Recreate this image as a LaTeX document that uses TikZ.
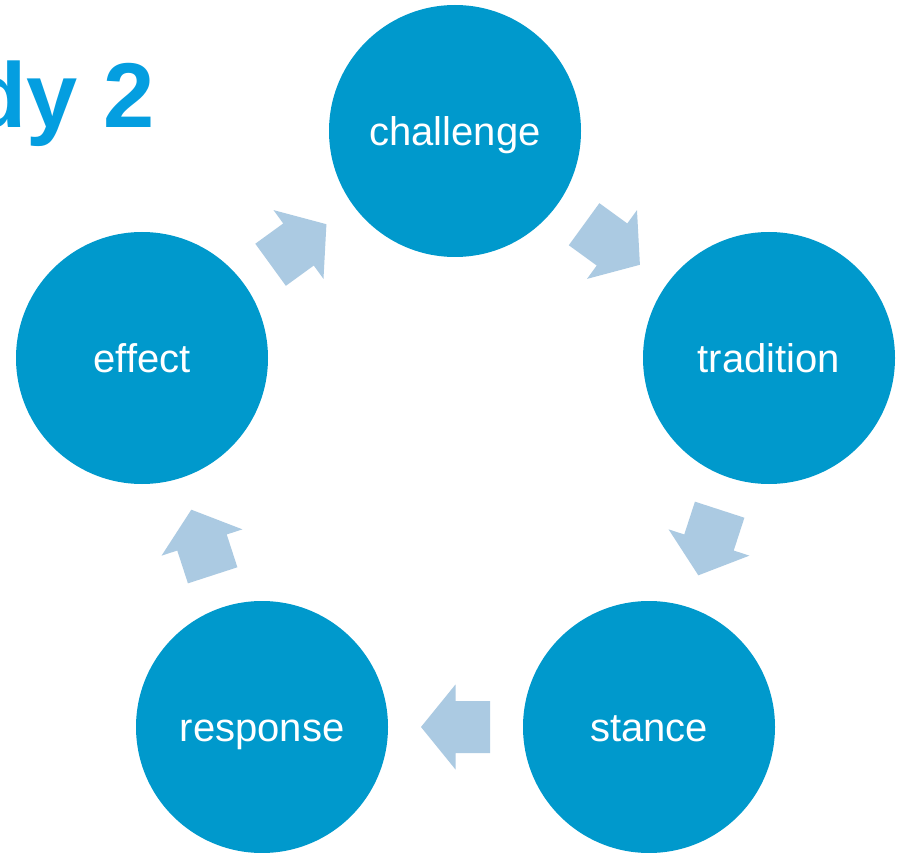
\documentclass[tikz,border=0pt]{standalone}
\usepackage{fontspec}
\setmainfont{Liberation Sans}
\usetikzlibrary{calc}
\definecolor{circblue}{HTML}{0099CC}
\definecolor{arrowblue}{HTML}{ABCAE2}
\definecolor{titleblue}{HTML}{049EE0}
\tikzset{
  circ/.style={circle, fill=circblue, inner sep=0pt, minimum size=252pt, text=white, text height=37pt, text depth=8pt, font=\fontsize{40}{48}\selectfont},
  blockarrow/.pic={\fill[arrowblue] (-34.5,-26) -- (0,-26) -- (0,-42.5) -- (34.5,0) -- (0,42.5) -- (0,26) -- (-34.5,26) -- cycle;}
}
\begin{document}
\begin{tikzpicture}[x=1pt,y=-1pt]
\useasboundingbox (0,0) rectangle (900,853);
\fill[white] (0,0) rectangle (900,853);
\node[anchor=base west, inner sep=0pt, text=titleblue, font=\fontsize{92}{108}\selectfont\bfseries] (title) at (-30,128) {dy 2};
\node[circ] (c1) at (455,131) {challenge};
\node[circ] (c2) at (769,358) {tradition};
\node[circ] (c3) at (649,727) {stance};
\node[circ] (c4) at (262,727) {response};
\node[circ] (c5) at (142,358) {effect};
\pic[rotate=-36] (a1) at ($(c1)!0.5!(c2)$) {blockarrow};
\pic[rotate=-108] (a2) at ($(c2)!0.5!(c3)$) {blockarrow};
\pic[rotate=180] (a3) at ($(c3)!0.5!(c4)$) {blockarrow};
\pic[rotate=108] (a4) at ($(c4)!0.5!(c5)$) {blockarrow};
\pic[rotate=36] (a5) at ($(c5)!0.5!(c1)$) {blockarrow};
\end{tikzpicture}
\end{document}
